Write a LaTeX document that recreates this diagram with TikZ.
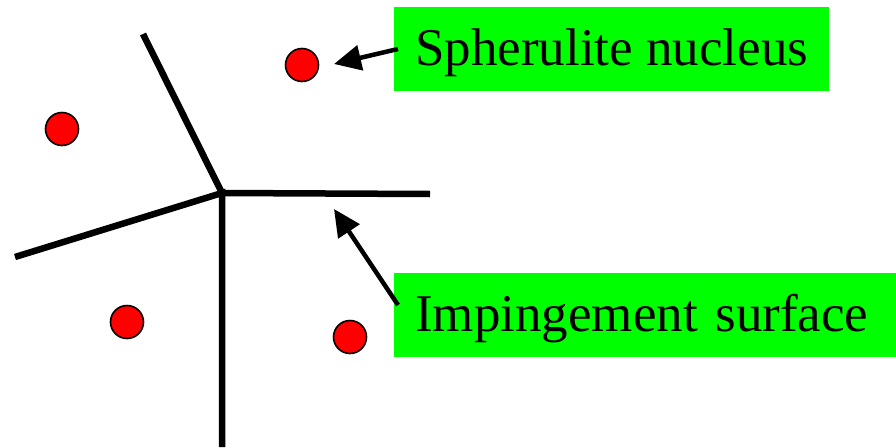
\documentclass[tikz,border=0pt]{standalone}
\usepackage{fontspec}
\setmainfont{LiberationSerif}[Extension=.ttf,UprightFont=*-Regular,BoldFont=*-Bold]
\usetikzlibrary{arrows.meta}
\definecolor{labelgreen}{RGB}{0,255,0}
\begin{document}
\begin{tikzpicture}[x=1pt,y=-1pt,
  boundary/.style={line width=6.5pt,line join=miter},
  nucleus/.style={circle,fill=red,draw=black,line width=1.6pt,minimum size=33pt,inner sep=0pt},
  labelbox/.style={fill=labelgreen,anchor=base west,inner xsep=21pt,inner ysep=0pt,
    text height=58pt,text depth=26pt,font=\fontsize{53}{60}\selectfont},
  pointer/.style={line width=4.5pt,-{Triangle[length=27pt,width=25pt]}}]
  \useasboundingbox (0,0) rectangle (896,447);

  % impingement boundaries between neighbouring spherulites
  \coordinate (junction) at (222,193);
  \coordinate (endnw) at (143,34);
  \coordinate (endw) at (15,257);
  \coordinate (ende) at (430,194);
  \coordinate (ends) at (222,447);
  \draw[boundary] (endnw) -- (junction) -- (ende);
  \draw[boundary] (endw) -- (junction) -- (ends);

  % nuclei
  \node[nucleus] (n1) at (302,65) {};
  \node[nucleus] (n2) at (62,129) {};
  \node[nucleus] (n3) at (127,322) {};
  \node[nucleus] (n4) at (350,337) {};

  % labels
  \node[labelbox] (nuclabel) at (394,65) {Spherulite nucleus};
  \node[labelbox,align=left,text width=460pt] (surflabel) at (394,331) {Impingement surface};

  % pointers
  \coordinate (p1tail) at (398,49);
  \coordinate (p1tip) at (334,64);
  \coordinate (p2tail) at (398,305);
  \coordinate (p2tip) at (334,209);
  \draw[pointer] (p1tail) -- (p1tip);
  \draw[pointer] (p2tail) -- (p2tip);
\end{tikzpicture}
\end{document}
